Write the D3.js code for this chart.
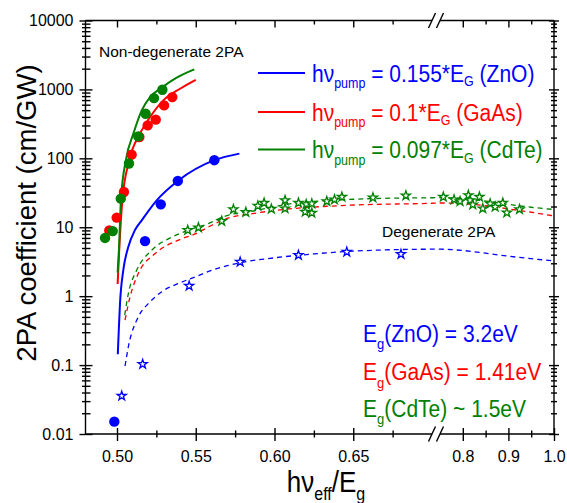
<!DOCTYPE html>
<html><head><meta charset="utf-8">
<script src="https://cdn.jsdelivr.net/npm/d3@7"></script>
<style>
body{margin:0;background:#fff}
svg{display:block}
text{font-family:"Liberation Sans",Arial,Helvetica,sans-serif}
</style>
</head><body>
<svg id="chart" width="567" height="503"></svg>
<script>
// ---------------- DATA ----------------
const xLeftTickValues = [0.50, 0.55, 0.60, 0.65];
const xLeftTickLabels = ["0.50", "0.55", "0.60", "0.65"];
const xLeftMinorValues = [0.525, 0.575, 0.625, 0.675];
const xRightTickValues = [0.8, 0.9, 1.0];
const xRightTickLabels = ["0.8", "0.9", "1.0"];
const xRightMinorValues = [0.85, 0.95];
const yTickValues = [0.01, 0.1, 1, 10, 100, 1000, 10000];
const yTickLabels = ["0.01", "0.1", "1", "10", "100", "1000", "10000"];

// Non-degenerate 2PA, measured (filled circles)
const ndZnO  = [[0.4983,0.0151],[0.5178,6.3],[0.5278,21.5],[0.5386,47],[0.5618,94]];
const ndGaAs = [[0.4951,9.0],[0.4998,13.8],[0.5044,32.5],[0.5093,113],[0.5142,204],[0.5195,301],[0.5246,364],[0.5299,586],[0.5351,773]];
const ndCdTe = [[0.4924,7.0],[0.4973,8.8],[0.5024,26],[0.5076,84],[0.5135,208],[0.5182,444],[0.5235,748],[0.5288,990]];

// Non-degenerate 2PA, theory (solid lines)
const ndZnOFit  = [[0.5005,0.144],[0.5012,0.35],[0.5019,0.78],[0.504,2.38],[0.5072,5.2],[0.5114,9.1],[0.5157,12.6],[0.5252,24.6],[0.5386,47],[0.5618,94],[0.5777,117]];
const ndGaAsFit = [[0.5004,1.5],[0.5014,4.6],[0.5034,24.6],[0.5078,94],[0.5146,228],[0.521,397],[0.5294,693],[0.540,1023],[0.550,1380]];
const ndCdTeFit = [[0.5004,2.2],[0.5012,4.6],[0.5025,25],[0.5057,96],[0.5104,228],[0.5157,497],[0.521,773],[0.5284,1060],[0.5379,1479],[0.5491,1950]];

// Degenerate 2PA, measured (open stars)
const dZnO  = [[0.5030,0.0356],[0.5163,0.103],[0.5458,1.41],[0.5782,3.14],[0.6152,3.93],[0.6459,4.38],[0.6803,4.07]];
const dCdTe = [[0.5449,9.06],[0.5517,9.9],[0.5665,12.3],[0.5739,18.2],[0.5818,16.5],[0.5894,20.4],[0.5934,22.5],[0.5980,18.4],
  [0.6067,24.6],[0.6067,18.7],[0.6152,22.5],[0.6201,21.5],[0.6237,22],[0.6195,16.7],[0.6237,16.1],[0.6332,23.8],[0.6381,25.2],
  [0.6428,27.5],[0.6625,26.9],[0.6834,28.8],[0.7573,27.5],[0.7808,25.2],[0.794,23.8],[0.8122,29.1],[0.8159,24.6],[0.8219,21.3],
  [0.8364,27.5],[0.8438,18.7],[0.8599,22],[0.8709,19.7],[0.8878,22.5],[0.8966,16.3],[0.9243,18.2]];

// Degenerate 2PA, theory (dashed lines)
const dZnOFit  = [[0.5051,0.097],[0.5072,0.184],[0.5135,0.5],[0.5199,0.78],[0.5284,1.16],[0.539,1.53],[0.5496,1.9],[0.5602,2.38],[0.578,3.05],[0.60,3.6],[0.625,4.1],[0.65,4.5],[0.70,4.8],[0.75,4.8],[0.80,4.6],[0.85,4.2],[0.90,3.8],[0.95,3.5],[1.0,3.25]];
const dGaAsFit = [[0.5051,0.45],[0.5083,0.98],[0.5135,2.13],[0.5242,4.16],[0.539,6.5],[0.5496,8.0],[0.5602,10.7],[0.5675,12.8],[0.5887,16.1],[0.605,18.0],[0.646,20.8],[0.70,22.3],[0.75,22.5],[0.80,22],[0.85,20.5],[0.90,18.5],[0.95,16.5],[1.0,14.6]];
const dCdTeFit = [[0.5049,0.53],[0.5072,1.09],[0.5125,2.38],[0.522,4.64],[0.5348,7.2],[0.5453,9.06],[0.558,11.3],[0.5675,14.2],[0.5887,17.6],[0.605,21.0],[0.646,25.2],[0.684,26.6],[0.70,26.8],[0.75,26.9],[0.80,26],[0.85,24],[0.90,21.5],[0.95,19.5],[1.0,18.1]];

const legendCoeffs = ["0.155", "0.1", "0.097"];
const materials = ["ZnO", "GaAs", "CdTe"];
const egRelations = ["=", "=", "~"];
const egValues = ["3.2eV", "1.41eV", "1.5eV"];
const colors = ["#0000ff", "#ff0000", "#008000"];

// ---------------- SCALES ----------------
const svg = d3.select("#chart");
const xL = d3.scaleLinear().domain([0.48, 0.70]).range([85.5, 432]);
const xR = d3.scaleLinear().domain([0.75, 1.0]).range([440, 554]);
const y = d3.scaleLog().domain([0.01, 10000]).range([434, 20.5]);
const xPos = v => v <= 0.72 ? xL(v) : xR(v);
const X0 = xL.range()[0], X1 = xR.range()[1], Y0 = y.range()[0], Y1 = y.range()[1];

const yMinor = [];
yTickValues.slice(0, -1).forEach(d => { for (let m = 2; m <= 9; m++) yMinor.push(d * m); });

// ---------------- CURVES ----------------
const line = d3.line().x(d => xPos(d[0])).y(d => y(d[1])).curve(d3.curveMonotoneX);
const plot = svg.append("g");
[dZnOFit, dGaAsFit, dCdTeFit].forEach((s, i) => {
  plot.append("path").attr("d", line(s)).attr("fill", "none")
    .attr("stroke", colors[i]).attr("stroke-width", 1.3).attr("stroke-dasharray", "5,4");
});
[ndZnOFit, ndGaAsFit, ndCdTeFit].forEach((s, i) => {
  plot.append("path").attr("d", line(s)).attr("fill", "none")
    .attr("stroke", colors[i]).attr("stroke-width", 2);
});

// stars
const star = d3.symbol().type(d3.symbolStar).size(26);
[[dZnO, 0], [dCdTe, 2]].forEach(([s, i]) => {
  plot.selectAll(null).data(s).enter().append("path")
    .attr("d", star).attr("transform", d => `translate(${xPos(d[0])},${y(d[1])})`)
    .attr("fill", "white").attr("stroke", colors[i]).attr("stroke-width", 1.3);
});
// circles
[[ndZnO, 0], [ndGaAs, 1], [ndCdTe, 2]].forEach(([s, i]) => {
  plot.selectAll(null).data(s).enter().append("circle")
    .attr("cx", d => xPos(d[0])).attr("cy", d => y(d[1])).attr("r", 5.2)
    .attr("fill", colors[i]);
});

// ---------------- AXES ----------------
const ax = svg.append("g").attr("stroke", "#000").attr("stroke-width", 1.4);
function styleAxis(g) {
  g.select(".domain").remove();
  g.selectAll(".tick line").attr("stroke", "#000").attr("stroke-width", 1.4);
  g.selectAll(".tick text").attr("fill", "#000").attr("font-size", "16px")
    .attr("font-family", '"Liberation Sans",Arial,sans-serif');
}
// bottom + top
[[xL, xLeftTickValues, xLeftTickLabels, xLeftMinorValues], [xR, xRightTickValues, xRightTickLabels, xRightMinorValues]]
.forEach(([sc, tv, tl, mv]) => {
  const gb = svg.append("g").attr("transform", `translate(0,${Y0})`)
    .call(d3.axisBottom(sc).tickValues(tv).tickFormat((d, i) => tl[i]).tickSize(7).tickPadding(9.5));
  styleAxis(gb); gb.selectAll(".tick line").attr("y1", -6);
  const gbm = svg.append("g").attr("transform", `translate(0,${Y0})`)
    .call(d3.axisBottom(sc).tickValues(mv).tickFormat("").tickSize(3.5));
  styleAxis(gbm); gbm.selectAll(".tick line").attr("y1", -3.5);
  const gt = svg.append("g").attr("transform", `translate(0,${Y1})`)
    .call(d3.axisTop(sc).tickValues(tv).tickFormat("").tickSize(0));
  styleAxis(gt); gt.selectAll(".tick line").attr("y2", 7);
  const gtm = svg.append("g").attr("transform", `translate(0,${Y1})`)
    .call(d3.axisTop(sc).tickValues(mv).tickFormat("").tickSize(0));
  styleAxis(gtm); gtm.selectAll(".tick line").attr("y2", 4);
});
// left
const gl = svg.append("g").attr("transform", `translate(${X0},0)`)
  .call(d3.axisLeft(y).tickValues(yTickValues).tickFormat((d, i) => yTickLabels[i]).tickSize(6).tickPadding(6));
styleAxis(gl); gl.selectAll(".tick line").attr("x1", 7);
const glm = svg.append("g").attr("transform", `translate(${X0},0)`)
  .call(d3.axisLeft(y).tickValues(yMinor).tickFormat("").tickSize(3.5));
styleAxis(glm); glm.selectAll(".tick line").attr("x1", 5);
// right
const gr = svg.append("g").attr("transform", `translate(${X1},0)`)
  .call(d3.axisRight(y).tickValues(yTickValues).tickFormat("").tickSize(5));
styleAxis(gr); gr.selectAll(".tick line").attr("x1", -5);
const grm = svg.append("g").attr("transform", `translate(${X1},0)`)
  .call(d3.axisRight(y).tickValues(yMinor).tickFormat("").tickSize(3));
styleAxis(grm); grm.selectAll(".tick line").attr("x1", -3);

// frame lines with axis break
const bxL = xL.range()[1], bxR = xR.range()[0];
[Y0, Y1].forEach(yy => {
  ax.append("line").attr("x1", X0).attr("x2", bxL).attr("y1", yy).attr("y2", yy);
  ax.append("line").attr("x1", bxR).attr("x2", X1).attr("y1", yy).attr("y2", yy);
  [bxL, bxR].forEach(bx => {
    ax.append("line").attr("x1", bx - 3.5).attr("y1", yy + 7.5).attr("x2", bx + 3.5).attr("y2", yy - 7.5);
  });
});
ax.append("line").attr("x1", X0).attr("x2", X0).attr("y1", Y1).attr("y2", Y0);
ax.append("line").attr("x1", X1).attr("x2", X1).attr("y1", Y1).attr("y2", Y0);

// ---------------- TEXT ----------------
svg.append("text").attr("transform", "translate(36,213) rotate(-90) scale(1.02,1.05)")
  .attr("text-anchor", "middle").attr("font-size", "27px").attr("fill", "#000")
  .text("2PA coefficient (cm/GW)");
const xt = svg.append("g").attr("transform", "translate(326,492) scale(1,1.12)")
  .append("text").attr("text-anchor", "middle").attr("font-size", "26px").attr("fill", "#000");
xt.append("tspan").text("hν");
xt.append("tspan").attr("font-size", "16px").attr("dy", 7).text("eff");
xt.append("tspan").attr("dy", -7).text("/E");
xt.append("tspan").attr("font-size", "16px").attr("dy", 7).text("g");

svg.append("text").attr("x", 99).attr("y", 56.5).attr("font-size", "15.5px").attr("fill", "#000")
  .text("Non-degenerate 2PA");
svg.append("text").attr("x", 382).attr("y", 236.5).attr("font-size", "15.5px").attr("fill", "#000")
  .text("Degenerate 2PA");

// legend
const legY = [73, 112, 149.5];
legendCoeffs.forEach((c, i) => {
  svg.append("line").attr("x1", 258).attr("x2", 305).attr("y1", legY[i]).attr("y2", legY[i])
    .attr("stroke", colors[i]).attr("stroke-width", 2);
  const t = svg.append("g").attr("transform", `translate(312,${legY[i] + 8.5}) scale(1,1.1)`)
    .append("text").attr("font-size", "21px").attr("fill", colors[i]);
  t.append("tspan").text("hν");
  t.append("tspan").attr("font-size", "12.5px").attr("dy", 6).text("pump");
  t.append("tspan").attr("dy", -6).text(` = ${c}*E`);
  t.append("tspan").attr("font-size", "12.5px").attr("dy", 4.5).text("G");
  t.append("tspan").attr("dy", -4.5).text(` (${materials[i]})`);
});

// band gaps
const egY = [341.5, 380, 416.5];
materials.forEach((m, i) => {
  const t = svg.append("g").attr("transform", `translate(363,${egY[i]}) scale(1,1.1)`)
    .append("text").attr("font-size", "21px").attr("fill", colors[i]);
  t.append("tspan").text("E");
  t.append("tspan").attr("font-size", "13px").attr("dy", 7).text("g");
  t.append("tspan").attr("dy", -7).text(`(${m}) ${egRelations[i]} ${egValues[i]}`);
});
</script>
</body></html>
